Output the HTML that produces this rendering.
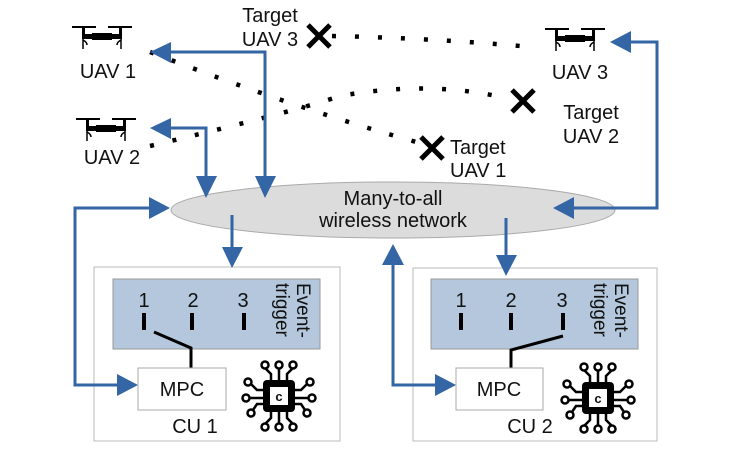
<!DOCTYPE html>
<html><head><style>body{margin:0;background:#fff}svg{display:block}text{font-family:"Liberation Sans",sans-serif;fill:#111}</style></head><body>
<svg width="749" height="449" viewBox="0 0 749 449" xmlns="http://www.w3.org/2000/svg">
<defs>
<g id="drone">
<rect x="0" y="0" width="24" height="2" fill="#000"/><rect x="36" y="0" width="24" height="2" fill="#000"/>
<rect x="10" y="2" width="3" height="6" fill="#000"/><rect x="47" y="2" width="3" height="6" fill="#000"/>
<rect x="10" y="8" width="40" height="5" fill="#000"/><rect x="20" y="7" width="20" height="7" fill="#000"/>
<path d="M11 13 L11 23 M49 13 L49 23 M11 14 Q15 16 15 19 M49 14 Q45 16 45 19" stroke="#000" stroke-width="1.5" fill="none"/>
</g>
<g id="chip">
<g stroke="#000" stroke-width="2.5" fill="none">
<path d="M-8 -14 L-8 -22 L-14 -28 M0 -14 L0 -28 M8 -14 L8 -22 L14 -28 M-8 14 L-8 22 L-14 28 M0 14 L0 28 M8 14 L8 22 L14 28 M-14 -6 L-22 -6 L-28 -12 M-14 2 L-30 2 M-14 8 L-22 8 L-26 14 M14 -6 L22 -6 L28 -12 M14 2 L30 2 M14 8 L22 8 L26 14"/>
<circle cx="-14" cy="-31" r="3.5"/><circle cx="0" cy="-31" r="3.5"/><circle cx="14" cy="-31" r="3.5"/>
<circle cx="-14" cy="31" r="3.5"/><circle cx="0" cy="31" r="3.5"/><circle cx="14" cy="31" r="3.5"/>
<circle cx="-31" cy="-14" r="3.5"/><circle cx="-33" cy="2" r="3.5"/><circle cx="-28" cy="17" r="3.5"/>
<circle cx="31" cy="-14" r="3.5"/><circle cx="33" cy="2" r="3.5"/><circle cx="28" cy="17" r="3.5"/>
</g>
<rect x="-16" y="-16" width="32" height="32" rx="4" fill="#000"/>
<rect x="-9" y="-9" width="18" height="18" fill="#fff"/>
<text x="0" y="5" font-size="13" font-weight="bold" text-anchor="middle">c</text>
</g>
</defs>

<g fill="none" stroke="#000" stroke-width="4.5" stroke-dasharray="4 19" stroke-linecap="butt">
<path d="M332 36 Q430 38 532 47"/>
<path d="M150 52 Q300 110 420 143"/>
<path d="M150 146 Q300 110 340 96 Q430 80 505 98"/>
</g>

<use href="#drone" x="72" y="26"/><text x="108" y="78" font-size="20" text-anchor="middle">UAV 1</text>
<use href="#drone" x="76" y="118"/><text x="112" y="164" font-size="20" text-anchor="middle">UAV 2</text>
<use href="#drone" x="545" y="28"/><text x="580" y="79" font-size="20" text-anchor="middle">UAV 3</text>

<g stroke="#000" stroke-width="5">
<path d="M308 25 L330 47 M330 25 L308 47"/>
<path d="M512 90 L534 112 M534 90 L512 112"/>
<path d="M421 137 L443 159 M443 137 L421 159"/>
</g>
<text x="270" y="22" font-size="20" text-anchor="middle">Target</text><text x="270" y="46" font-size="20" text-anchor="middle">UAV 3</text>
<text x="591" y="119" font-size="20" text-anchor="middle">Target</text><text x="591" y="143" font-size="20" text-anchor="middle">UAV 2</text>
<text x="450" y="154" font-size="20">Target</text><text x="450" y="177" font-size="20">UAV 1</text>

<ellipse cx="393" cy="210" rx="222" ry="28" fill="#dcdcdc" stroke="#aaa" stroke-width="1"/>
<text x="393" y="205" font-size="20" text-anchor="middle">Many-to-all</text>
<text x="393" y="227" font-size="20" text-anchor="middle">wireless network</text>

<rect x="94" y="267" width="246" height="174" fill="#fff" stroke="#bbb"/>
<rect x="113" y="279" width="207" height="70" fill="#b4c7dc" stroke="#999"/>
<rect x="413" y="268" width="244" height="173" fill="#fff" stroke="#bbb"/>
<rect x="431" y="279" width="207" height="70" fill="#b4c7dc" stroke="#999"/>

<g font-size="20" text-anchor="middle">
<text x="144" y="307">1</text><text x="193" y="307">2</text><text x="243" y="307">3</text>
<text x="461" y="307">1</text><text x="511" y="307">2</text><text x="562" y="307">3</text>
</g>
<text transform="translate(297,283) rotate(90)" font-size="19">Event-</text>
<text transform="translate(276,283) rotate(90)" font-size="19">trigger</text>
<text transform="translate(615,283) rotate(90)" font-size="19">Event-</text>
<text transform="translate(594,283) rotate(90)" font-size="19">trigger</text>
<g fill="#000">
<rect x="142" y="313" width="4" height="17"/><rect x="190" y="313" width="4" height="17"/><rect x="242" y="313" width="4" height="17"/>
<rect x="459" y="313" width="4" height="17"/><rect x="509" y="313" width="4" height="17"/><rect x="561" y="313" width="4" height="17"/>
</g>
<g stroke="#000" stroke-width="3" fill="none">
<path d="M154 332 L191 348 L191 369"/>
<path d="M511 369 L511 350 L563 336"/>
</g>
<rect x="138" y="368" width="88" height="42" fill="#fff" stroke="#aaa"/>
<text x="182" y="396" font-size="20" text-anchor="middle">MPC</text>
<rect x="456" y="368" width="87" height="42" fill="#fff" stroke="#aaa"/>
<text x="499" y="396" font-size="20" text-anchor="middle">MPC</text>
<text x="195" y="433" font-size="20" text-anchor="middle">CU 1</text>
<text x="530" y="433" font-size="20" text-anchor="middle">CU 2</text>
<use href="#chip" x="279" y="396"/>
<use href="#chip" x="598" y="398"/>

<g stroke="#3465a4" stroke-width="3" fill="none">
<path d="M168 52 L265 52 L265 180"/>
<path d="M168 128 L206 128 L206 180"/>
<path d="M120 385 L75 385 L75 208 L152 208"/>
<path d="M232 215 L232 252"/>
<path d="M572 208 L657 208 L657 42 L628 42"/>
<path d="M506 218 L506 260"/>
<path d="M393 262 L393 385 L437 385"/>
</g>
<g fill="#3465a4">
<polygon points="150,52 171,42 171,63"/>
<polygon points="265,198 255,176 276,176"/>
<polygon points="150,128 171,118 171,139"/>
<polygon points="206,198 196,176 217,176"/>
<polygon points="170,208 149,197 149,219"/>
<polygon points="138,385 117,374 117,396"/>
<polygon points="232,268 222,247 243,247"/>
<polygon points="553,208 574,197 574,219"/>
<polygon points="610,42 631,31 631,53"/>
<polygon points="506,276 496,255 517,255"/>
<polygon points="393,244 382,265 404,265"/>
<polygon points="456,385 435,374 435,396"/>
</g>
</svg>
</body></html>
